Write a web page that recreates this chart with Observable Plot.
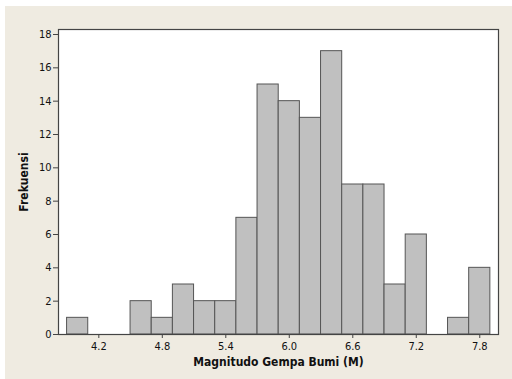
<!DOCTYPE html>
<html>
<head>
<meta charset="utf-8">
<script src="https://cdn.jsdelivr.net/npm/d3@7"></script>
<script src="https://cdn.jsdelivr.net/npm/@observablehq/plot@0.6"></script>
<style>
  html, body { margin: 0; padding: 0; background: #fff; }
  #wrap { position: relative; width: 512px; height: 379px; overflow: hidden; background: #fff; }
  #bg { position: absolute; left: 5px; top: 6px; width: 507px; height: 373px; background: #efebe1; }
  #chart { position: absolute; left: 0; top: 0; }
  #chart svg { background: transparent; overflow: visible; }
</style>
</head>
<body>
<div id="wrap"><div id="bg"></div><div id="chart"></div></div>
<script>
const binMids = [4.0, 4.2, 4.4, 4.6, 4.8, 5.0, 5.2, 5.4, 5.6, 5.8, 6.0, 6.2, 6.4, 6.6, 6.8, 7.0, 7.2, 7.4, 7.6, 7.8];
const counts  = [1,   0,   0,   2,   1,   3,   2,   2,   7,   15,  14,  13,  17,  9,   9,   3,   6,   0,   1,   4];
const binWidth = 0.2;
const xTicks = [4.2, 4.8, 5.4, 6.0, 6.6, 7.2, 7.8];
const yTicks = [0, 2, 4, 6, 8, 10, 12, 14, 16, 18];
const xTitle = "Magnitudo Gempa Bumi (M)";
const yTitle = "Frekuensi";

const bins = binMids.map((m, i) => ({x1: m - binWidth / 2, x2: m + binWidth / 2, n: counts[i]})).filter(d => d.n > 0);

const font = "'DejaVu Sans Condensed', 'DejaVu Sans', sans-serif";

const chart = Plot.plot({
  width: 512,
  height: 379,
  marginLeft: 58,
  marginRight: 14,
  marginTop: 29,
  marginBottom: 45,
  style: {fontFamily: font, fontSize: "11px", color: "#111", background: "transparent"},
  x: {domain: [3.819, 7.977], ticks: xTicks, tickFormat: d => d.toFixed(1), tickSize: 4, tickPadding: 4, label: null},
  y: {domain: [0, 18.3], ticks: yTicks, tickSize: 5, tickPadding: 2, label: null},
  marks: [
    Plot.frame({fill: "#fff"}),
    Plot.rectY(bins, {x1: "x1", x2: "x2", y: "n", fill: "#c0c0c0", stroke: "#555", strokeWidth: 1}),
    Plot.frame({stroke: "#444", strokeWidth: 1.2}),
    Plot.axisX({ticks: xTicks, tickFormat: d => d.toFixed(1), tickSize: 4, tickPadding: 4, stroke: "#444", fill: "#111", fontSize: 11, label: null}),
    Plot.axisY({ticks: yTicks, tickSize: 5, tickPadding: 2, stroke: "#444", fill: "#111", fontSize: 11, label: null}),
    Plot.text([xTitle], {frameAnchor: "bottom", dy: 31, text: d => d, fontWeight: "bold", fontSize: 12, fill: "#111"}),
    Plot.text([yTitle], {frameAnchor: "left", textAnchor: "middle", dx: -34, rotate: -90, text: d => d, fontWeight: "bold", fontSize: 12, fill: "#111"})
  ]
});
document.getElementById("chart").appendChild(chart);
</script>
</body>
</html>
